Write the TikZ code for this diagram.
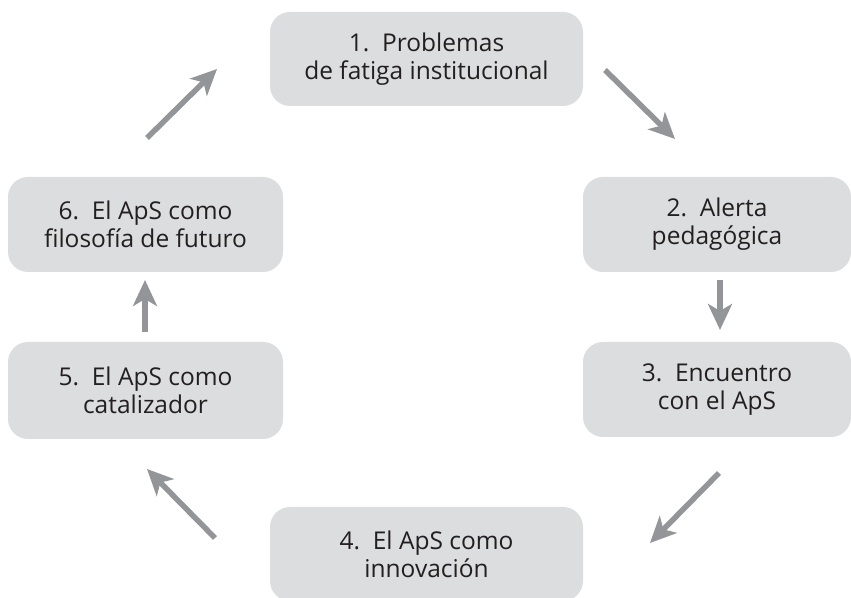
\documentclass[tikz,border=0pt]{standalone}
\usepackage{fontspec}
\setmainfont{Open Sans}
\usetikzlibrary{arrows.meta}
\definecolor{boxfill}{HTML}{DCDDDE}
\definecolor{arrowgray}{HTML}{939598}
\definecolor{txt}{HTML}{231F20}
\begin{document}
\begin{tikzpicture}[x=1pt,y=1pt,
  stagebox/.style={fill=boxfill, draw=none, rounded corners=20pt, align=center,
    text=txt, font=\fontsize{24.5}{28}\selectfont, inner sep=0pt},
  flow/.style={draw=arrowgray, line width=5.5pt,
    -{Stealth[length=26pt, width=24pt, inset=7pt, fill=arrowgray]}}]
\useasboundingbox (0,0) rectangle (851,597);
\node[stagebox, minimum width=313pt, minimum height=94pt] (b1) at (426.5,538) {1.\ \ Problemas\\de fatiga institucional};
\node[stagebox, minimum width=268pt, minimum height=95pt] (b2) at (717,372.5) {2.\ \ Alerta\\pedagógica};
\node[stagebox, minimum width=268pt, minimum height=95pt] (b3) at (717,207.5) {3.\ \ Encuentro\\con el ApS};
\node[stagebox, minimum width=313pt, minimum height=94pt] (b4) at (426.5,43) {4.\ \ El ApS como\\innovación};
\node[stagebox, minimum width=275pt, minimum height=97pt] (b5) at (145.5,206.5) {5.\ \ El ApS como\\catalizador};
\node[stagebox, minimum width=275pt, minimum height=95pt] (b6) at (145.5,372.5) {6.\ \ El ApS como\\filosofía de futuro};
\coordinate (s61) at (147,459); \coordinate (e61) at (217,528);
\coordinate (s12) at (605,527); \coordinate (e12) at (675,458);
\coordinate (s23) at (720,317); \coordinate (e23) at (720,267);
\coordinate (s34) at (719,124); \coordinate (e34) at (650,54);
\coordinate (s45) at (215,59);  \coordinate (e45) at (147,128);
\coordinate (s56) at (145,265); \coordinate (e56) at (145,317);
\draw[flow] (s61) -- (e61);
\draw[flow] (s12) -- (e12);
\draw[flow] (s23) -- (e23);
\draw[flow] (s34) -- (e34);
\draw[flow] (s45) -- (e45);
\draw[flow] (s56) -- (e56);
\end{tikzpicture}
\end{document}
